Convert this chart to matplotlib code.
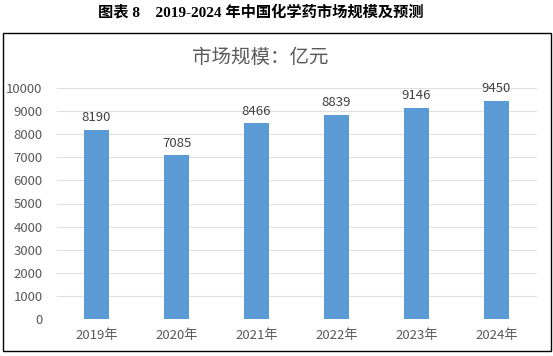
import matplotlib.pyplot as plt
from matplotlib.patches import Rectangle

plt.rcParams['font.family'] = ['Noto Sans CJK SC', 'DejaVu Sans']

years = ['2019年', '2020年', '2021年', '2022年', '2023年', '2024年']
values = [8190, 7085, 8466, 8839, 9146, 9450]
yticks = list(range(0, 10001, 1000))

fig = plt.figure(figsize=(5.53, 3.56), dpi=100)

# outer frame around chart
fig.patches.append(Rectangle((3 / 553, 1 - 351 / 356), 548 / 553, 318 / 356,
                             transform=fig.transFigure, fill=False,
                             edgecolor='black', linewidth=1.0))

fig.text(261 / 553, 1 - 12 / 356, '图表 8    2019-2024 年中国化学药市场规模及预测',
         ha='center', va='center', fontsize=11, fontweight='bold',
         family=['Liberation Serif', 'Noto Sans CJK SC'])
fig.text(260 / 553, 1 - 57 / 356, '市场规模：亿元', ha='center', va='center',
         fontsize=14, color='#595959', fontweight='light')

ax = fig.add_axes([56.5 / 553, 1 - 319 / 356, 480 / 553, 231 / 356])
x = range(len(years))
bars = ax.bar(x, values, width=0.31, color='#5B9BD5', zorder=3)
for xi, v in zip(x, values):
    ax.text(xi, v + 250, str(v), ha='center', va='bottom', fontsize=9.5,
            color='#404040')

ax.set_xlim(-0.5, len(years) - 0.5)
ax.set_ylim(0, 10000)
ax.set_yticks(yticks)
ax.set_xticks(list(x))
ax.set_xticklabels(years)
ax.grid(axis='y', color='#E0E0E0', linewidth=0.8, zorder=0)
for s in ax.spines.values():
    s.set_visible(False)
ax.tick_params(length=0, labelsize=9.5, labelcolor='#595959')
ax.tick_params(axis='x', pad=7)
ax.tick_params(axis='y', pad=10)

fig.savefig('out.png', dpi=100)
